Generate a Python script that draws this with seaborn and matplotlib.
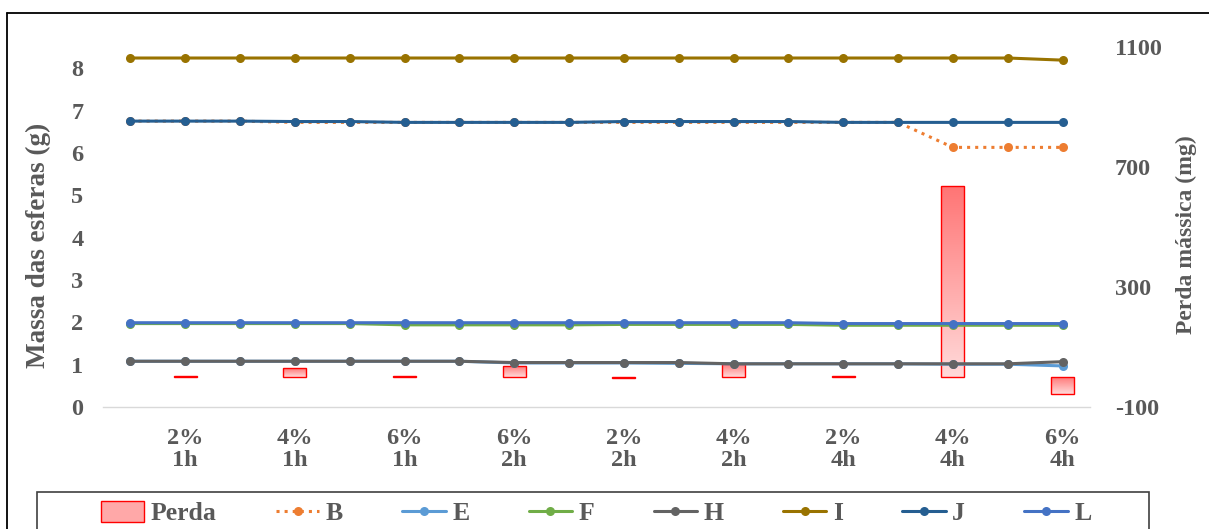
import numpy as np
import pandas as pd
import matplotlib.pyplot as plt
import seaborn as sns
from matplotlib.colors import LinearSegmentedColormap
from matplotlib.lines import Line2D
from matplotlib.patches import Rectangle

sns.set_style("white")
plt.rcParams['font.family'] = ['Liberation Serif', 'DejaVu Serif']
plt.rcParams['font.weight'] = 'bold'
plt.rcParams['axes.labelweight'] = 'bold'
plt.rcParams['axes.unicode_minus'] = False

# categories (one bar per category, lines have two points per category)
categorias = ["2%\n1h", "4%\n1h", "6%\n1h", "6%\n2h", "2%\n2h",
              "4%\n2h", "2%\n4h", "4%\n4h", "6%\n4h"]
perda = [3, 29, 3, 38, -3, 45, 3, 637, -57]   # mg

# massa das esferas (g), 18 readings each
B = [6.75, 6.75, 6.75, 6.72, 6.72, 6.72, 6.72, 6.72, 6.72,
     6.72, 6.72, 6.72, 6.72, 6.72, 6.72, 6.13, 6.13, 6.13]
E = [1.08, 1.08, 1.08, 1.08, 1.08, 1.08, 1.08, 1.04, 1.04,
     1.04, 1.03, 1.02, 1.02, 1.02, 1.02, 1.01, 1.01, 0.97]
F = [1.97, 1.97, 1.97, 1.97, 1.97, 1.94, 1.94, 1.94, 1.94,
     1.95, 1.95, 1.95, 1.95, 1.93, 1.93, 1.93, 1.93, 1.93]
H = [1.08, 1.08, 1.08, 1.08, 1.08, 1.08, 1.08, 1.05, 1.05,
     1.05, 1.05, 1.02, 1.02, 1.02, 1.02, 1.02, 1.02, 1.07]
I = [8.24, 8.24, 8.24, 8.24, 8.24, 8.24, 8.24, 8.24, 8.24,
     8.24, 8.24, 8.24, 8.24, 8.24, 8.24, 8.24, 8.24, 8.19]
J = [6.75, 6.75, 6.75, 6.74, 6.74, 6.72, 6.72, 6.72, 6.72,
     6.74, 6.74, 6.74, 6.74, 6.72, 6.72, 6.72, 6.72, 6.72]
L = [1.99, 1.99, 1.99, 1.99, 1.99, 1.99, 1.99, 1.99, 1.99,
     1.99, 1.99, 1.99, 1.99, 1.97, 1.97, 1.97, 1.97, 1.97]

series = {"B": B, "E": E, "F": F, "H": H, "I": I, "J": J, "L": L}
cores = {"B": "#ED7D31", "E": "#5B9BD5", "F": "#70AD47", "H": "#636363",
         "I": "#997300", "J": "#255E91", "L": "#4472C4"}

txt = "#595959"
fs = 17.5

fig = plt.figure(figsize=(12.09, 5.29), dpi=100)
ax = fig.add_axes([103/1209, 1-407/529, 987/1209, 360/529])
ax2 = ax.twinx()
# lines on top of bars
ax.set_zorder(ax2.get_zorder() + 1)
ax.patch.set_visible(False)

xs = np.arange(len(B))
xbar = np.arange(len(categorias)) * 2 + 1

# bars with vertical gradient
bars = ax2.bar(xbar, perda, width=0.42, facecolor='none', edgecolor='#FF0000',
               linewidth=1.0, label="Perda", zorder=3)
cmap = LinearSegmentedColormap.from_list("perda", ["#FFDADA", "#FF7474"])
grad = np.linspace(0, 1, 256).reshape(-1, 1)
for b in bars:
    x0, y0 = b.get_x(), b.get_y()
    w, h = b.get_width(), b.get_height()
    ylo, yhi = min(y0, y0 + h), max(y0, y0 + h)
    im = ax2.imshow(grad, cmap=cmap, origin='lower', aspect='auto',
                    extent=(x0, x0 + w, ylo, yhi), zorder=2)
    im.set_clip_path(b)

for nome, vals in series.items():
    c = cores[nome]
    sns.lineplot(x=xs, y=vals, ax=ax, color=c, marker='o', markersize=6.5,
                 linewidth=2.2, markeredgecolor=c, markeredgewidth=0,
                 linestyle=':' if nome == "B" else '-', label=nome, legend=False)

ax.set_xlim(-0.5, len(B) - 0.5)
ax.set_ylim(0, 8.5)
ax2.set_ylim(-100, 1100)
ax.set_yticks(range(0, 9))
ax2.set_yticks([-100, 300, 700, 1100])
ax.set_xticks(xbar)
ax.set_xticklabels(categorias)

for a in (ax, ax2):
    for s in a.spines.values():
        s.set_visible(False)
    a.tick_params(length=0, labelsize=fs, labelcolor=txt)
ax.spines['bottom'].set_visible(True)
ax.spines['bottom'].set_color('#D9D9D9')
ax.spines['bottom'].set_linewidth(1.0)
ax.tick_params(axis='y', pad=14)
ax.tick_params(axis='x', pad=15)
ax2.tick_params(axis='y', pad=18)
for t in ax.get_xticklabels():
    t.set_linespacing(1.1)

ax.set_ylabel("Massa das esferas (g)", fontsize=19.5, color=txt, va='center')
ax.yaxis.set_label_coords(-0.065, 0.45)
ax2.set_ylabel("Perda mássica (mg)", fontsize=17, color=txt, va='center')
ax2.yaxis.set_label_coords(1.098, 0.48)

# legend box along the bottom
fig.add_artist(Rectangle((37/1209, -0.05), 1112/1209, 0.05 + 1-492/529,
                         transform=fig.transFigure, facecolor='white',
                         edgecolor='#404040', lw=1.2))
h1, l1 = ax2.get_legend_handles_labels()
h2, l2 = ax.get_legend_handles_labels()
leg = fig.legend(h1 + h2, l1 + l2, loc='center', ncol=8,
                 bbox_to_anchor=(596/1209, 1-513/529),
                 bbox_transform=fig.transFigure, frameon=False,
                 fontsize=18.5, handlelength=1.7, handleheight=0.9,
                 handletextpad=0.25, columnspacing=2.3)
for t in leg.get_texts():
    t.set_color(txt)
leg.legend_handles[0].set_facecolor('#FFA8A8')

# chart border
fig.add_artist(Line2D([7/1209, 1], [1-13/529, 1-13/529], color='black', lw=1.3,
                      transform=fig.transFigure))
fig.add_artist(Line2D([7/1209, 7/1209], [0, 1-13/529], color='black', lw=1.3,
                      transform=fig.transFigure))

fig.savefig("out.png", dpi=100)
